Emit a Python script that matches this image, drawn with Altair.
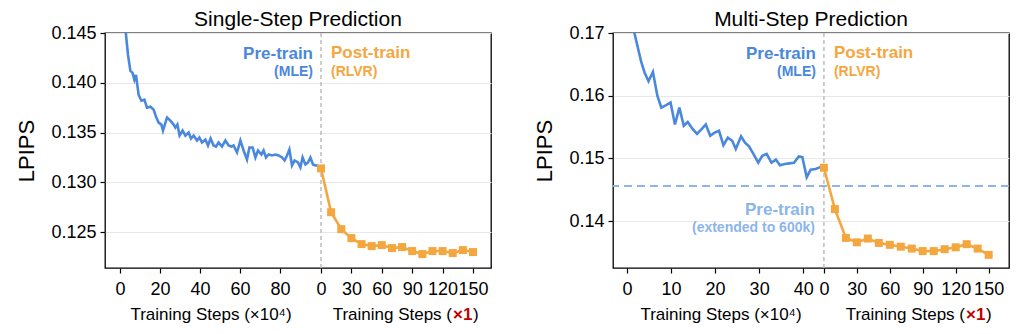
import altair as alt
import pandas as pd

FONT = "Liberation Sans"
BLUE = "#4a88dd"
ORANGE = "#f4a73f"
LIGHT = "#8cb5ec"
RED = "#c00000"
GRID = "#e8e8e8"
VLINE = "#bdbdbd"

# ---------------- data: Single-Step Prediction ----------------
single_pre_steps = [0, 1, 2, 3, 4, 5.2, 6.3, 7.2, 8, 9.3, 10.7, 12.2, 13.5, 15.2, 16.8, 18,
                    19.3, 20.7, 21.5, 23.5, 25.2, 26.8, 27.7, 28.7, 29.8, 31.3, 32.7, 34.3,
                    35.5, 36.8, 38.5, 39.7, 41, 42.7, 44, 45.3, 46.8, 48, 49.3, 51, 52.7, 54.3,
                    55.7, 56.8, 58.5, 60.2, 61.8, 63.5, 64.7, 66.3, 67.7, 69, 70.7, 71.8, 73,
                    74.3, 76, 77.7, 79.3, 81, 82.3, 83.5, 84.7, 86, 87.3, 89, 90.2, 91.3, 92.7,
                    94, 95.2, 96.5, 97.7, 99]
single_pre_lpips = [0.158, 0.153, 0.1478, 0.1448, 0.1428, 0.1412, 0.1410, 0.1403, 0.1408,
                    0.1388, 0.1382, 0.1383, 0.1375, 0.1376, 0.1373, 0.1366, 0.1360, 0.1358,
                    0.1352, 0.1365, 0.1362, 0.1358, 0.1355, 0.1358, 0.1347, 0.1352, 0.1347,
                    0.1350, 0.1344, 0.1347, 0.1342, 0.1345, 0.1340, 0.1343, 0.1337, 0.1344,
                    0.1337, 0.1336, 0.1340, 0.1336, 0.1342, 0.1337, 0.1336, 0.1337, 0.1330,
                    0.1342, 0.1332, 0.1323, 0.1335, 0.1335, 0.1325, 0.1332, 0.1328, 0.1332,
                    0.1325, 0.1328, 0.1327, 0.1328, 0.1327, 0.1325, 0.1322, 0.1327, 0.1333,
                    0.1317, 0.1322, 0.1320, 0.1315, 0.1325, 0.1318, 0.1320, 0.1325, 0.1318,
                    0.1317, 0.1317]
post_steps = [0, 10, 20, 30, 40, 50, 60, 70, 80, 90, 100, 110, 120, 130, 140, 150]
single_post_lpips = [0.1314, 0.1270, 0.1253, 0.1244, 0.1238, 0.1236, 0.1237, 0.1234,
                     0.1235, 0.1231, 0.1228, 0.1231, 0.1231, 0.1229, 0.1232, 0.1230]

# ---------------- data: Multi-Step Prediction ----------------
multi_pre_steps = [0, 1, 1.7, 2.5, 3.2, 4, 4.9, 5.9, 6.9, 7.8, 8.9, 9.9, 10.9, 11.9, 12.9,
                   13.8, 14.9, 15.9, 17, 17.9, 18.9, 19.9, 20.9, 21.9, 22.9, 23.9, 24.7, 25.9,
                   26.8, 27.7, 28.7, 29.8, 30.7, 31.7, 32.8, 33.8, 34.7, 35.8, 36.8, 37.9, 39,
                   39.8, 40.8, 41.7, 42.8, 43.9]
multi_pre_lpips = [0.177, 0.173, 0.1700, 0.1676, 0.1655, 0.1637, 0.1623, 0.1638, 0.1600,
                   0.1581, 0.1585, 0.1589, 0.1554, 0.1581, 0.1552, 0.1558, 0.1547, 0.1539,
                   0.1547, 0.1554, 0.1536, 0.1541, 0.1544, 0.1521, 0.1533, 0.1528, 0.1515,
                   0.1535, 0.1525, 0.1519, 0.1507, 0.1493, 0.1504, 0.1507, 0.1493, 0.1498,
                   0.1489, 0.1491, 0.1492, 0.1493, 0.1503, 0.1502, 0.1470, 0.1482, 0.1483,
                   0.1486]
multi_post_lpips = [0.1485, 0.1419, 0.1373, 0.1366, 0.1372, 0.1365, 0.1362, 0.1359, 0.1356,
                    0.1352, 0.1352, 0.1355, 0.1358, 0.1363, 0.1356, 0.1346]
multi_extended_lpips = [0.1456]

post_tick_steps = [0, 30, 60, 90, 120, 150]


def panel(title, pre_steps, pre_vals, post_vals, pre_ticks, off, k, xdom, ydom, yticks, yfmt,
          width, height, pre_title_px, post_anchor_px, extended=None):
    xscale = alt.Scale(domain=xdom, nice=False, zero=False)
    yscale = alt.Scale(domain=ydom, nice=False, zero=False)
    post_pos = [off + k * s for s in post_tick_steps]
    xaxis = alt.Axis(
        values=list(pre_ticks) + post_pos,
        labelExpr=(f"datum.value < {off - 0.05} ? format(datum.value, 'd') : "
                   f"format(round((datum.value - {off}) / {k}), 'd')"),
        title=None, grid=False, domain=False, ticks=True, tickColor="black", tickSize=5,
        tickWidth=1.2, labelFontSize=18, labelFont=FONT, labelColor="black", labelPadding=7,
        labelFlush=False, labelOverlap=False)
    yaxis = alt.Axis(
        values=yticks, format=yfmt, title="LPIPS", titleFontSize=22, titleFont=FONT,
        titleFontWeight="normal", titleColor="black", titlePadding=12, grid=True,
        gridColor=GRID, gridWidth=1, domain=False, ticks=True, tickColor="black", tickSize=5,
        tickWidth=1.2, labelFontSize=18, labelFont=FONT, labelColor="black", labelPadding=4)

    X = alt.X("u:Q", scale=xscale, axis=xaxis)
    Y = alt.Y("lpips:Q", scale=yscale, axis=yaxis)

    pre_df = pd.DataFrame({"step": pre_steps, "lpips": pre_vals})
    post_df = pd.DataFrame({"step": post_steps, "lpips": post_vals})

    layers = []
    vrule = alt.Chart(pd.DataFrame({"u": [off]})).mark_rule(
        color=VLINE, strokeDash=[4, 3], strokeWidth=1.5).encode(x=X)
    layers.append(vrule)
    if extended is not None:
        hrule = alt.Chart(pd.DataFrame({"lpips": extended})).mark_rule(
            color=LIGHT, strokeDash=[8, 5], strokeWidth=2).encode(y=Y)
        layers.append(hrule)
    pre_line = alt.Chart(pre_df).transform_calculate(u="datum.step").mark_line(
        color=BLUE, strokeWidth=2.6, clip=True).encode(x=X, y=Y)
    post_line = alt.Chart(post_df).transform_calculate(u=f"{off} + datum.step * {k}").mark_line(
        color=ORANGE, strokeWidth=2.6, clip=False).encode(x=X, y=Y)
    post_pts = alt.Chart(post_df).transform_calculate(u=f"{off} + datum.step * {k}").mark_point(
        shape="square", size=64, filled=True, opacity=1, color=ORANGE).encode(x=X, y=Y)
    layers += [pre_line, post_line, post_pts]

    def txt(text, xpos, ypix, color, size, align, dx=0, weight="bold"):
        return alt.Chart(pd.DataFrame({"u": [xpos], "t": [text]})).mark_text(
            align=align, baseline="alphabetic", dx=dx, fontSize=size, fontWeight=weight,
            font=FONT, color=color).encode(x=X, y=alt.value(ypix), text="t:N")

    layers.append(txt("Pre-train", off, 26, BLUE, 17, "right", dx=-8))
    layers.append(txt("(MLE)", off, 43, BLUE, 14, "right", dx=-8))
    layers.append(txt("Post-train", off, 25, ORANGE, 17, "left", dx=10))
    layers.append(txt("(RLVR)", off, 43, ORANGE, 14, "left", dx=10))
    if extended is not None:
        layers.append(txt("Pre-train", off, 182, LIGHT, 17, "right", dx=-9))
        layers.append(txt("(extended to 600k)", off, 199, LIGHT, 14, "right", dx=-9))

    def ptxt(text, xpix, color, align, weight="normal"):
        return alt.Chart(pd.DataFrame({"t": [text]})).mark_text(
            align=align, baseline="alphabetic", fontSize=17, fontWeight=weight, font=FONT,
            color=color).encode(x=alt.value(xpix), y=alt.value(287), text="t:N")

    layers.append(ptxt("Training Steps (×10⁴)", pre_title_px, "black", "center"))
    layers.append(ptxt("Training Steps (", post_anchor_px, "black", "right"))
    layers.append(ptxt("×1", post_anchor_px + 1, RED, "left", weight="bold"))
    layers.append(ptxt(")", post_anchor_px + 21, "black", "left"))

    return alt.layer(*layers).properties(
        width=width, height=height,
        title=alt.TitleParams(text=title, fontSize=21, font=FONT, fontWeight="normal",
                              color="black", anchor="middle", offset=-6))


p1 = panel("Single-Step Prediction", single_pre_steps, single_pre_lpips, single_post_lpips,
           [0, 20, 40, 60, 80], off=100.5, k=0.50667, xdom=[-7.5, 185.5],
           ydom=[0.1214, 0.145], yticks=[0.125, 0.130, 0.135, 0.140, 0.145], yfmt=".3f",
           width=386, height=235, pre_title_px=106, post_anchor_px=347)
p2 = panel("Multi-Step Prediction", multi_pre_steps, multi_pre_lpips, multi_post_lpips,
           [0, 10, 20, 30, 40], off=44.7, k=0.2492, xdom=[-3.16, 86.7],
           ydom=[0.1325, 0.17], yticks=[0.14, 0.15, 0.16, 0.17], yfmt=".2f",
           width=396, height=235, pre_title_px=108, post_anchor_px=352,
           extended=multi_extended_lpips)

chart = alt.hconcat(p1, p2, spacing=41).properties(
    padding={"left": 7, "top": 0, "right": 0, "bottom": 0},
    background="white",
).configure_view(stroke="black", strokeWidth=1.3)

chart.save("out.html", embed_options={"renderer": "svg", "actions": False})
